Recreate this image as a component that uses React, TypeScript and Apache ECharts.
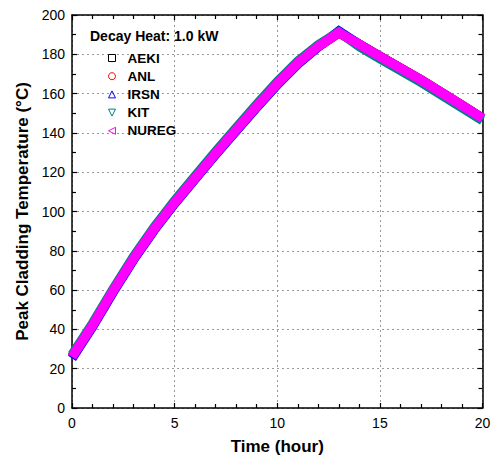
import React, { useEffect, useRef } from "react";
import * as echarts from "echarts";

const times = [0, 1, 2, 3, 4, 5, 6, 7, 8, 9, 10, 11, 12, 13, 14, 15, 16, 17, 18, 19, 20];
const aeki = [26, 42, 59.5, 76, 91, 104.5, 117, 129.5, 141.5, 153.5, 165, 175.5, 184, 191, 185, 179, 173, 167, 160.5, 154, 147.5];
const anl = [26, 42, 59.5, 76, 91, 104.5, 117, 129.5, 141.5, 153.5, 165, 175.5, 184, 191, 185, 179, 173, 167, 160.5, 154, 147.5];
const irsn = [25.3, 41.3, 58.9, 75.5, 90.5, 104, 116.5, 129, 141, 153, 164.5, 175, 183.8, 191.8, 185, 178.8, 172.8, 166.8, 160.3, 153.8, 147.3];
const kit = [27, 43, 60.5, 77, 92, 105.5, 118, 130.5, 142.5, 154.5, 166, 176.5, 184.8, 191.4, 184, 177.8, 171.8, 165.8, 159.3, 152.8, 146.3];
const nureg = [26, 42, 59.5, 76, 91, 104.5, 117, 129.5, 141.5, 153.5, 165, 175.5, 184, 191, 185, 179, 173, 167, 160.5, 154, 147.5];

const seriesNames = ["AEKI", "ANL", "IRSN", "KIT", "NUREG"];
const seriesColors = ["#000000", "#ff0000", "#0000ff", "#008080", "#ff00ff"];
const seriesIcons = [
  "rect",
  "circle",
  "triangle",
  "path://M0,0 L10,0 L5,10 Z",
  "path://M10,0 L10,10 L0,5 Z",
];
const xTicks = [0, 5, 10, 15, 20];
const yTicks = [0, 20, 40, 60, 80, 100, 120, 140, 160, 180, 200];

const FONT = "Liberation Sans, Arial, sans-serif";

export default function App() {
  const ref = useRef<HTMLDivElement>(null);
  useEffect(() => {
    if (!ref.current) return;
    const chart = echarts.init(ref.current, undefined, { renderer: "svg" });
    const allData = [aeki, anl, irsn, kit, nureg];
    const series = seriesNames.map((name, i) => ({
      name,
      type: "line",
      xAxisIndex: 0,
      yAxisIndex: 0,
      data: times.map((t, j) => [t, allData[i][j]]),
      symbol: "none",
      lineStyle: { color: seriesColors[i], width: 9.5, join: "miter" },
      itemStyle: { color: seriesColors[i] },
      z: 2 + i,
    }));
    const axisCommon = {
      axisLine: { show: true, onZero: false, lineStyle: { color: "#000", width: 1.5 } },
      axisTick: { show: true, inside: true, length: 5, lineStyle: { color: "#000", width: 1.2 } },
      minorTick: { show: true, length: 4, lineStyle: { color: "#000", width: 1.2 } },
    };
    chart.setOption({
      animation: false,
      backgroundColor: "#ffffff",
      grid: { left: 72, right: 12.5, top: 15, bottom: 53, containLabel: false },
      legend: {
        orient: "vertical",
        left: 103,
        top: 46,
        itemWidth: 7,
        itemHeight: 7,
        itemGap: 4.2,
        textStyle: { fontFamily: FONT, fontSize: 13.5, fontWeight: "bold", color: "#000", padding: [0, 0, 0, 7] },
        data: seriesNames.map((name, i) => ({
          name,
          icon: seriesIcons[i],
          itemStyle: { color: "transparent", borderColor: seriesColors[i], borderWidth: 1 },
        })),
      },
      graphic: [
        {
          type: "text",
          left: 90,
          top: 29,
          style: { text: "Decay Heat: 1.0 kW", fontFamily: FONT, fontSize: 14, fontWeight: "bold", fill: "#000" },
          z: 10,
        },
      ],
      xAxis: [
        {
          type: "value",
          min: xTicks[0],
          max: xTicks[xTicks.length - 1],
          interval: 5,
          position: "bottom",
          name: "Time (hour)",
          nameLocation: "middle",
          nameGap: 30,
          nameTextStyle: { fontFamily: FONT, fontSize: 17, fontWeight: "bold", color: "#000" },
          ...axisCommon,
          minorTick: { ...axisCommon.minorTick, splitNumber: 5 },
          axisLabel: { fontFamily: FONT, fontSize: 14, color: "#000", margin: 8 },
          splitLine: { show: true, lineStyle: { color: "#999", type: [2, 3], width: 1 } },
        },
        {
          type: "value",
          min: xTicks[0],
          max: xTicks[xTicks.length - 1],
          interval: 5,
          position: "top",
          ...axisCommon,
          minorTick: { ...axisCommon.minorTick, splitNumber: 5 },
          axisLabel: { show: false },
          splitLine: { show: false },
        },
      ],
      yAxis: [
        {
          type: "value",
          min: yTicks[0],
          max: yTicks[yTicks.length - 1],
          interval: 20,
          position: "left",
          name: "Peak Cladding Temperature (\u00B0C)",
          nameLocation: "middle",
          nameGap: 41,
          nameTextStyle: { fontFamily: FONT, fontSize: 17, fontWeight: "bold", color: "#000" },
          ...axisCommon,
          minorTick: { ...axisCommon.minorTick, splitNumber: 2 },
          axisLabel: { fontFamily: FONT, fontSize: 14, color: "#000", margin: 7 },
          splitLine: { show: true, lineStyle: { color: "#999", type: [2, 3], width: 1 } },
        },
        {
          type: "value",
          min: yTicks[0],
          max: yTicks[yTicks.length - 1],
          interval: 20,
          position: "right",
          ...axisCommon,
          minorTick: { ...axisCommon.minorTick, splitNumber: 2 },
          axisLabel: { show: false },
          splitLine: { show: false },
        },
      ],
      series,
    });
    return () => chart.dispose();
  }, []);
  return (
    <div
      ref={ref}
      style={{ position: "absolute", left: 0, top: 0, width: 495, height: 461, background: "#fff" }}
    />
  );
}
